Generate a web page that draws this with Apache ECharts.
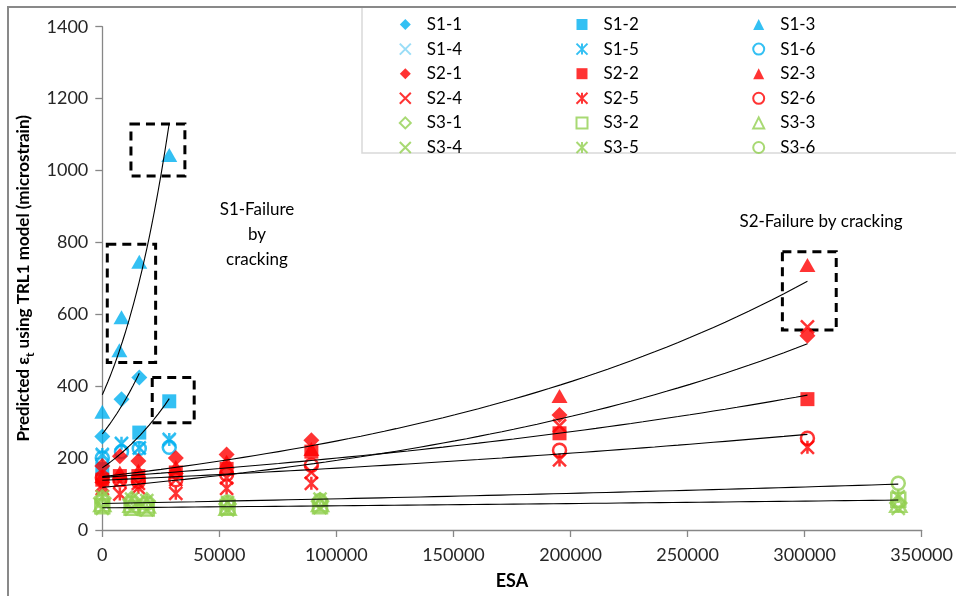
<!DOCTYPE html>
<html>
<head>
<meta charset="utf-8">
<script src="https://cdn.jsdelivr.net/npm/echarts@6/dist/echarts.min.js"></script>
<style>
  html, body { margin: 0; padding: 0; background: #ffffff; }
  #chart { width: 956px; height: 596px; }
</style>
</head>
<body>
<div id="chart"></div>
<script>
// ESA (equivalent standard axles) at which each section was assessed
const esaS1 = [0, 7300, 8200, 15800, 28600];
const esaS2 = [0, 7500, 15400, 31400, 53100, 89300, 195300, 301200];
const esaS3 = [0, 12500, 19000, 53500, 93000, 340000];

// Predicted tensile strain (microstrain), TRL1 model — section S1
const s1_1 = [260, null, 364, 424, null];
const s1_2 = [170, null, null, 271, 358];
const s1_3 = [329, 500, 592, 746, 1043];
const s1_4 = [205, null, 238, 230, 248];
const s1_5 = [210, null, 241, 228, 252];
const s1_6 = [200, null, 218, 227, 230];

// Section S2
const s2_1 = [178, 205, 192, 200, 210, 250, 320, 540];
const s2_2 = [140, 150, 150, 160, 170, 218, 269, 364];
const s2_3 = [150, 160, 165, 175, 190, 225, 373, 737];
const s2_4 = [125, 135, 130, 140, 145, 160, 290, 565];
const s2_5 = [115, 100, 118, 102, 116, 130, 195, 230];
const s2_6 = [145, 140, 135, 140, 155, 180, 222, 255];

// Section S3
const s3_1 = [88, 84, 80, 72, 80, 75];
const s3_2 = [66, 62, 60, 64, 66, 84];
const s3_3 = [72, 70, 68, 62, 72, 70];
const s3_4 = [60, 58, 56, 56, 62, 60];
const s3_5 = [92, 86, 82, 76, 86, 93];
const s3_6 = [80, 76, 74, 78, 82, 130];

// Series with an exponential trendline
const trendNames = ['S1-1', 'S1-2', 'S1-3', 'S2-3', 'S2-4', 'S2-2', 'S2-6', 'S3-6', 'S3-2'];

// Failure zones: [ESA from, ESA to, strain from, strain to]
const failureBoxes = [
  [12240, 35280, 985, 1129],
  [2130, 22780, 466, 795],
  [21330, 39250, 298, 424],
  [290500, 313500, 556, 774]
];

const xTicks = { min: 0, max: 350000, interval: 50000 };
const yTicks = { min: 0, max: 1400, interval: 200 };

const CYAN = '#00B0F0', CYAN_LIGHT = '#7FD4F5', RED = '#FF0000', GREEN = '#92D050';
const FONT = 'Lato, "Open Sans", sans-serif';
const SYM_X = 'path://M0,0L10,10M10,0L0,10';
const SYM_STAR = 'path://M0,0L10,10M10,0L0,10M5,0L5,10';

const defs = [
  ['S1-1', esaS1, s1_1, 'diamond', CYAN, 'fill'],
  ['S1-2', esaS1, s1_2, 'rect', CYAN, 'fill'],
  ['S1-3', esaS1, s1_3, 'triangle', CYAN, 'fill'],
  ['S1-4', esaS1, s1_4, SYM_X, CYAN_LIGHT, 'line'],
  ['S1-5', esaS1, s1_5, SYM_STAR, CYAN, 'line'],
  ['S1-6', esaS1, s1_6, 'circle', CYAN, 'hollow'],
  ['S2-1', esaS2, s2_1, 'diamond', RED, 'fill'],
  ['S2-2', esaS2, s2_2, 'rect', RED, 'fill'],
  ['S2-3', esaS2, s2_3, 'triangle', RED, 'fill'],
  ['S2-4', esaS2, s2_4, SYM_X, RED, 'line'],
  ['S2-5', esaS2, s2_5, SYM_STAR, RED, 'line'],
  ['S2-6', esaS2, s2_6, 'circle', RED, 'hollow'],
  ['S3-1', esaS3, s3_1, 'diamond', GREEN, 'hollow'],
  ['S3-2', esaS3, s3_2, 'rect', GREEN, 'hollow'],
  ['S3-3', esaS3, s3_3, 'triangle', GREEN, 'hollow'],
  ['S3-4', esaS3, s3_4, SYM_X, GREEN, 'line'],
  ['S3-5', esaS3, s3_5, SYM_STAR, GREEN, 'line'],
  ['S3-6', esaS3, s3_6, 'circle', GREEN, 'hollow']
];

function pairs(xs, ys) {
  const out = [];
  ys.forEach((y, i) => { if (y != null) out.push([xs[i], y]); });
  return out;
}

// Least-squares fit of ln(y) = ln(a) + b·x, drawn over the series' ESA range
function expTrend(pts) {
  const n = pts.length;
  let mx = 0, my = 0;
  pts.forEach(p => { mx += p[0]; my += Math.log(p[1]); });
  mx /= n; my /= n;
  let sxx = 0, sxy = 0;
  pts.forEach(p => { sxx += (p[0] - mx) ** 2; sxy += (p[0] - mx) * (Math.log(p[1]) - my); });
  const b = sxy / sxx, a = Math.exp(my - b * mx);
  const x0 = Math.min(...pts.map(p => p[0])), x1 = Math.max(...pts.map(p => p[0]));
  const steps = 60, curve = [];
  for (let k = 0; k <= steps; k++) {
    const x = x0 + (x1 - x0) * k / steps;
    curve.push([x, a * Math.exp(b * x)]);
  }
  return curve;
}

function symbolSize(sym) {
  if (sym === 'diamond') return [16, 16];
  if (sym === 'triangle') return [16, 14];
  if (sym === 'rect') return [14, 14];
  return [13, 13];
}

const scatterSeries = defs.map(([name, xs, ys, sym, color, kind]) => {
  const style = kind === 'fill'
    ? { color: color, borderWidth: 0 }
    : { color: kind === 'line' ? color : 'rgba(255,255,255,0)', borderColor: color, borderWidth: kind === 'line' && color === CYAN_LIGHT ? 1.6 : 2.5 };
  return {
    name: name,
    type: 'scatter',
    symbol: sym,
    symbolSize: symbolSize(sym),
    itemStyle: style,
    data: pairs(xs, ys),
    z: 2,
    silent: true
  };
});

const trendSeries = trendNames.map((name, i) => {
  const d = defs.find(s => s[0] === name);
  const s = {
    name: name + ' trend',
    type: 'line',
    data: expTrend(pairs(d[1], d[2])),
    showSymbol: false,
    symbol: 'none',
    lineStyle: { color: '#000000', width: 1.1 },
    z: 3,
    silent: true
  };
  if (i === trendNames.length - 1) {
    s.markArea = {
      silent: true,
      itemStyle: { color: 'rgba(0,0,0,0)', borderColor: '#000000', borderWidth: 3, borderType: [9, 6] },
      data: failureBoxes.map(b => [{ coord: [b[0], b[3]] }, { coord: [b[1], b[2]] }])
    };
  }
  return s;
});

const names = defs.map(d => d[0]);
const legendCols = [0, 1, 2].map(c => names.filter((n, i) => i % 3 === c));
const legendLeft = [393.8, 570.5, 747.2];

const chart = echarts.init(document.getElementById('chart'), null, { renderer: 'canvas' });
chart.setOption({
  animation: false,
  backgroundColor: '#ffffff',
  grid: { left: 102.3, right: 33.3, top: 26.7, bottom: 66, containLabel: false },
  xAxis: {
    type: 'value',
    min: xTicks.min, max: xTicks.max, interval: xTicks.interval,
    name: 'ESA',
    nameLocation: 'middle',
    nameGap: 42,
    nameTextStyle: { fontFamily: FONT, fontSize: 18, fontWeight: 'bold', color: '#000' },
    axisLine: { show: true, lineStyle: { color: '#878787', width: 1.3 } },
    axisTick: { show: true, length: 7, lineStyle: { color: '#878787', width: 1.3 } },
    axisLabel: { fontFamily: FONT, fontSize: 18, color: '#262626', margin: 16, formatter: v => String(v) },
    splitLine: { show: false }
  },
  yAxis: {
    type: 'value',
    min: yTicks.min, max: yTicks.max, interval: yTicks.interval,
    name: '{a|Predicted ε}{s|t}{a| using TRL1 model (microstrain)}',
    nameLocation: 'middle',
    nameGap: 64,
    nameTextStyle: {
      color: '#000',
      rich: {
        a: { fontFamily: FONT, fontSize: 17, fontWeight: 'bold', color: '#000', lineHeight: 24 },
        s: { fontFamily: FONT, fontSize: 12, fontWeight: 'bold', color: '#000', lineHeight: 13, verticalAlign: 'bottom' }
      }
    },
    axisLine: { show: true, lineStyle: { color: '#878787', width: 1.3 } },
    axisTick: { show: true, length: 7, lineStyle: { color: '#878787', width: 1.3 } },
    axisLabel: { fontFamily: FONT, fontSize: 18, color: '#262626', margin: 14, formatter: v => String(v) },
    splitLine: { show: false }
  },
  legend: legendCols.map((col, c) => ({
    orient: 'vertical',
    left: legendLeft[c],
    top: 9.5,
    data: col,
    itemWidth: 11,
    itemHeight: 11,
    itemGap: 4.6,
    selectedMode: false,
    formatter: n => '{p|}' + n,
    textStyle: { fontFamily: FONT, fontSize: 17, color: '#000', lineHeight: 20, rich: { p: { width: 11 } } }
  })),
  graphic: [
    { type: 'rect', silent: true, z: 0, shape: { x: 362, y: 7, width: 700, height: 146 },
      style: { fill: 'none', stroke: '#d9d9d9', lineWidth: 1.5 } },
    { type: 'rect', silent: true, z: 1, shape: { x: 8, y: 7, width: 1000, height: 700 },
      style: { fill: 'none', stroke: '#898989', lineWidth: 2 } },
    { type: 'text', silent: true, x: 257, y: 235,
      style: { text: 'S1-Failure\nby\ncracking', fontFamily: FONT, fontSize: 17, lineHeight: 25, fill: '#000', align: 'center', verticalAlign: 'middle' } },
    { type: 'text', silent: true, x: 821, y: 222,
      style: { text: 'S2-Failure by cracking', fontFamily: FONT, fontSize: 17, fill: '#000', align: 'center', verticalAlign: 'middle' } }
  ],
  series: scatterSeries.concat(trendSeries)
});
</script>
</body>
</html>
